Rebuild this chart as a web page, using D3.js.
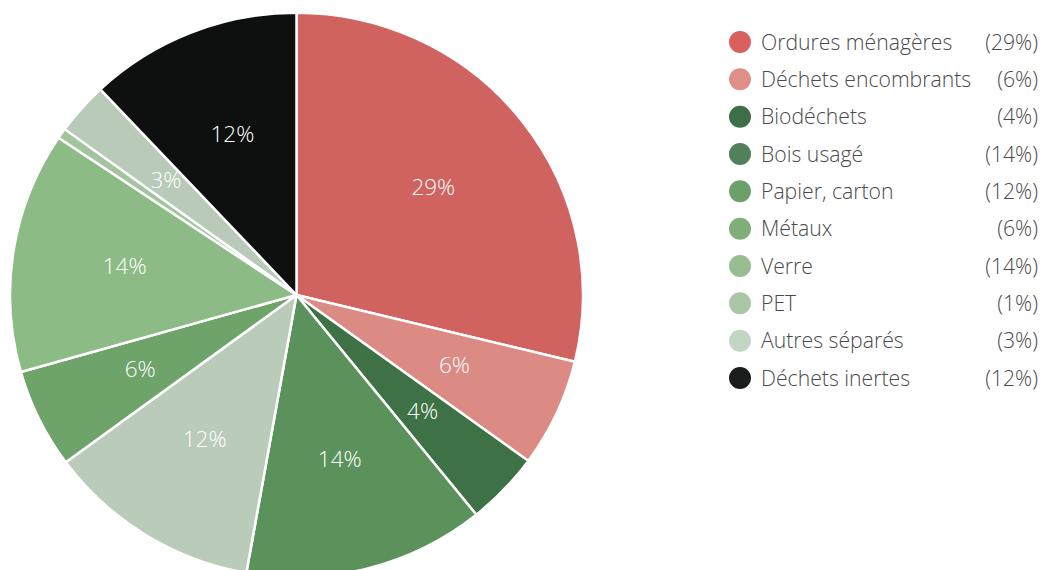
<!DOCTYPE html>
<html>
<head>
<meta charset="utf-8">
<script src="https://cdn.jsdelivr.net/npm/d3@7"></script>
<style>
  html, body { margin: 0; padding: 0; background: #fff; }
  svg { display: block; font-family: "Open Sans", sans-serif; }
</style>
</head>
<body>
<svg id="chart" width="1043" height="570"></svg>
<script>
const categories = ["Ordures ménagères", "Déchets encombrants", "Biodéchets", "Bois usagé", "Papier, carton", "Métaux", "Verre", "PET", "Autres séparés", "Déchets inertes"];
const values = [28.8, 6.2, 4.2, 13.6, 12.1, 5.7, 13.8, 0.6, 3.0, 12.0];
const sliceColors = ["#d0625f", "#dc8a84", "#3e7246", "#5b915b", "#bacbb9", "#6ea36a", "#8dbb86", "#a3c49e", "#b9cbb8", "#0e0f0f"];
const legendColors = ["#d9605f", "#e08f88", "#3f6f48", "#51805a", "#6c9f69", "#80ad7a", "#97bd91", "#aac6a7", "#c3d6c3", "#1b1c1c"];

const svg = d3.select("#chart");
const cx = 296.5, cy = 295, R = 286.5, ky = 0.985;

const data = categories.map((c, i) => ({ name: c, value: values[i], i }));
const pie = d3.pie().value(d => d.value).sort(null);
const arcs = pie(data);
const arc = d3.arc().innerRadius(0).outerRadius(R);
const labelArc = d3.arc().innerRadius(174).outerRadius(174);

const g = svg.append("g").attr("transform", `translate(${cx},${cy}) scale(1,${ky})`);
g.selectAll("path").data(arcs).join("path")
  .attr("d", arc)
  .attr("fill", d => sliceColors[d.data.i])
  .attr("stroke", "#fff")
  .attr("stroke-width", 2.5)
  .attr("stroke-linejoin", "round");

const gl = svg.append("g").attr("transform", `translate(${cx},${cy})`);
gl.selectAll("text").data(arcs.filter(d => d.data.value >= 1)).join("text")
  .attr("transform", d => { const c = labelArc.centroid(d); return `translate(${c[0]},${c[1] * ky - 2})`; })
  .attr("text-anchor", "middle")
  .attr("dy", "0.36em")
  .attr("fill", "#fff")
  .attr("font-size", 22.5)
  .attr("font-weight", 300)
  .text(d => Math.round(d.data.value) + "%");

const legend = svg.append("g");
const y = d3.scalePoint().domain(categories).range([42, 378]);
const rows = legend.selectAll("g").data(data).join("g")
  .attr("transform", d => `translate(0,${y(d.name)})`);
rows.append("circle").attr("cx", 740).attr("cy", 0).attr("r", 11)
  .attr("fill", d => legendColors[d.i]);
rows.append("text").attr("x", 761).attr("dy", "0.36em")
  .attr("font-size", 21.2).attr("font-weight", 300).attr("fill", "#4a4a4a").text(d => d.name);
rows.append("text").attr("x", 1038).attr("dy", "0.36em").attr("text-anchor", "end")
  .attr("font-size", 21.2).attr("font-weight", 300).attr("fill", "#4a4a4a").text(d => "(" + Math.round(d.value) + "%)");
</script>
</body>
</html>
